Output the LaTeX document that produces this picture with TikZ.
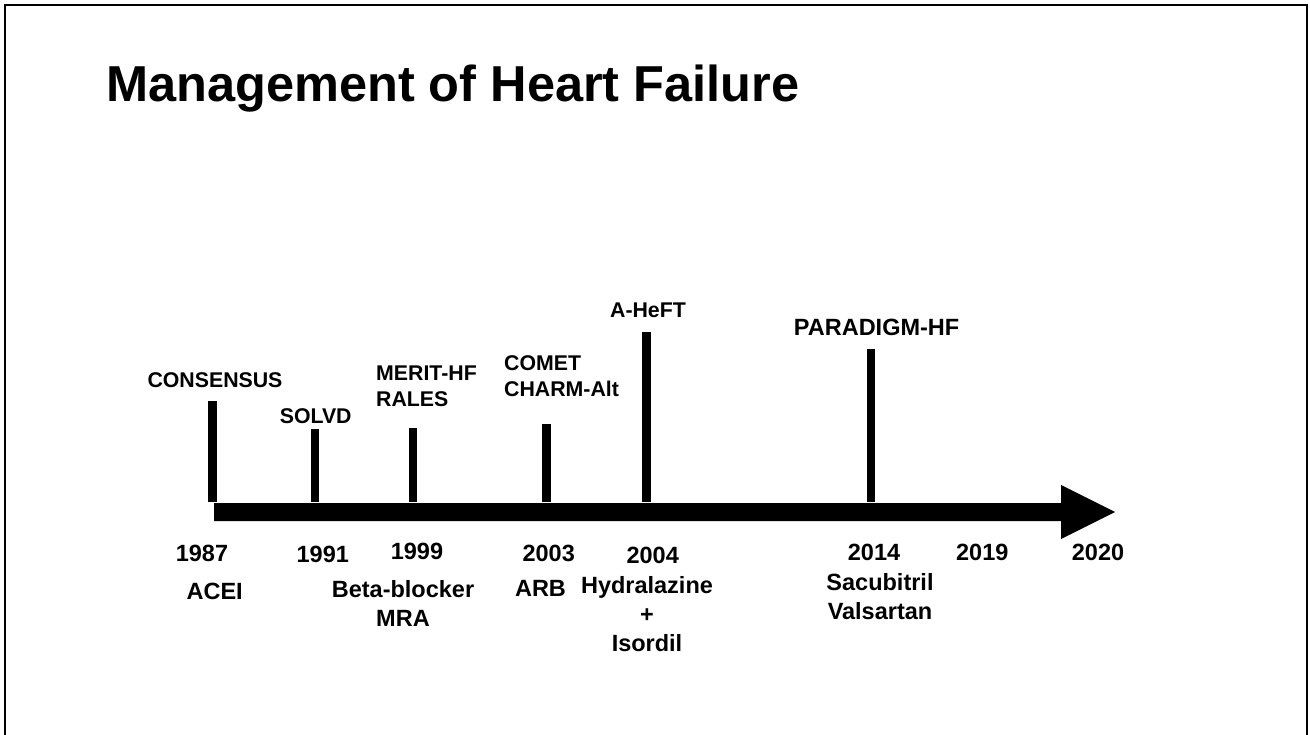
\documentclass[tikz,border=0pt]{standalone}
\usepackage{fontspec}
\setmainfont{Liberation Sans}
\begin{document}
\begin{tikzpicture}[x=1pt,y=-1pt,
  toplab/.style={font=\fontsize{21.3}{26}\selectfont\bfseries, inner sep=0pt, anchor=north, align=left},
  botlab/.style={font=\fontsize{23.5}{29}\selectfont\bfseries, inner sep=0pt, anchor=north, align=center},
  titlelab/.style={font=\fontsize{50.5}{56}\selectfont\bfseries, inner sep=0pt, anchor=north west},
  tickbar/.style={fill=black},
  frameline/.style={draw=black, line width=2pt}]
\useasboundingbox (0,0) rectangle (1310,735);
% frame (no bottom edge visible)
\draw[frameline] (4.5,736) -- (4.5,5) -- (1307,5) -- (1307,736);
% title
\node[titlelab] (title) at (106,65) {Management of Heart Failure};
% timeline axis with arrow head
\fill[tickbar] (214,503) -- (1061,503) -- (1061,485) -- (1115,512) -- (1061,539) -- (1061,521) -- (214,521) -- cycle;
% ticks
\fill[tickbar] (208.3,401) rectangle (216.7,502);
\fill[tickbar] (310.5,429) rectangle (319,502);
\fill[tickbar] (408.8,428) rectangle (417.3,502);
\fill[tickbar] (542.4,424) rectangle (550.9,502);
\fill[tickbar] (642.3,331.7) rectangle (650.8,502);
\fill[tickbar] (866.8,349.4) rectangle (875.3,502);
% trial labels
\node[toplab] (consensus) at (215,372) {CONSENSUS};
\node[toplab] (solvd) at (315.7,408) {SOLVD};
\node[toplab, anchor=north west] (merit) at (376,366) {MERIT-HF\\RALES};
\node[toplab, anchor=north west] (comet) at (504,355) {COMET\\CHARM-Alt};
\node[toplab] (aheft) at (648,303) {A-HeFT};
\node[toplab, font=\fontsize{23.5}{29}\selectfont\bfseries] (paradigm) at (876.6,318.7) {PARADIGM-HF};
% years
\node[botlab] (y1987) at (202,545) {1987};
\node[botlab] (y1991) at (322.8,546) {1991};
\node[botlab] (y1999) at (417,543) {1999};
\node[botlab] (y2003) at (548.7,545) {2003};
\node[botlab] (y2004) at (652.7,546.7) {2004};
\node[botlab] (y2014) at (874,543.5) {2014};
\node[botlab] (y2019) at (982.3,543.5) {2019};
\node[botlab] (y2020) at (1098,544) {2020};
% therapies
\node[botlab] (acei) at (214.7,583) {ACEI};
\node[botlab] (beta) at (403,580) {Beta-blocker\\MRA};
\node[botlab] (arb) at (540.5,580) {ARB};
\node[botlab] (hydra) at (647,576.7) {Hydralazine\\+\\Isordil};
\node[botlab] (sacu) at (880,573.3) {Sacubitril\\Valsartan};
\end{tikzpicture}
\end{document}
